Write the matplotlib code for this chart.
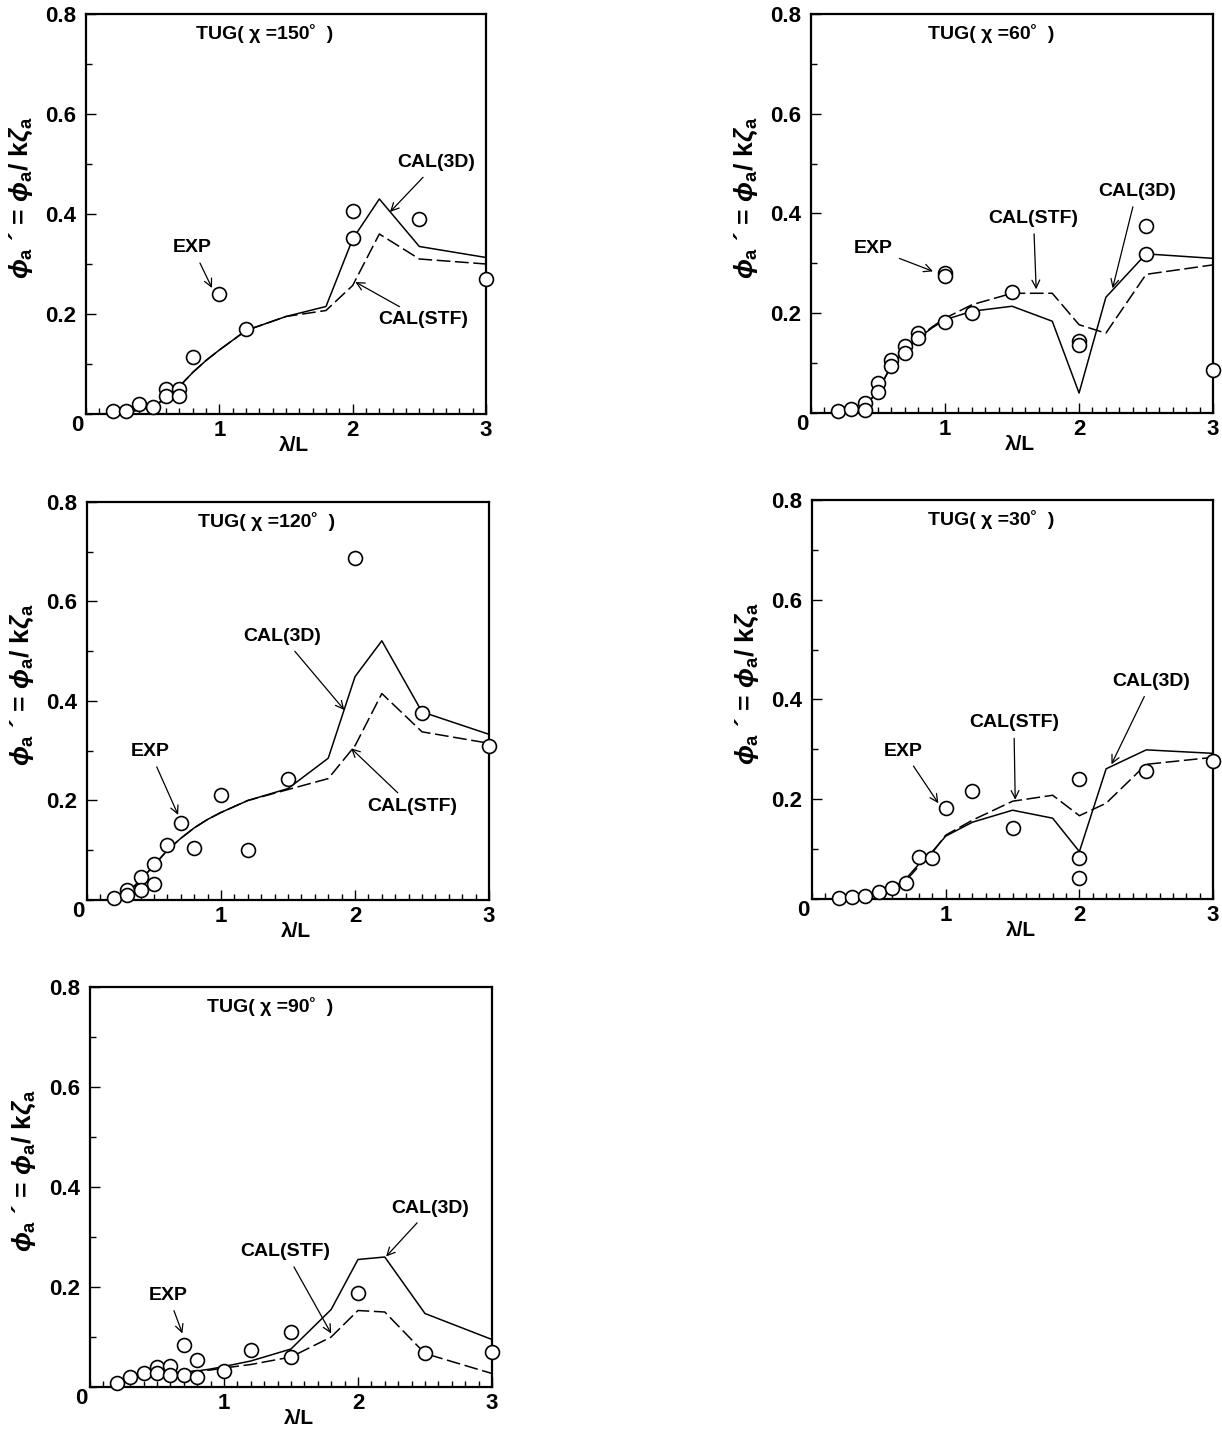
import matplotlib
matplotlib.use("Agg")
import matplotlib.pyplot as plt
from matplotlib.ticker import MultipleLocator, FixedLocator

plt.rcParams["font.family"] = ["Liberation Sans", "DejaVu Sans"]
plt.rcParams["mathtext.fontset"] = "custom"
plt.rcParams["mathtext.rm"] = "Liberation Sans:bold"
plt.rcParams["mathtext.it"] = "Liberation Sans:italic:bold"
plt.rcParams["mathtext.bf"] = "Liberation Sans:bold"

# wave length ratio used by both calculations
lam_cal = [0.2, 0.3, 0.4, 0.5, 0.6, 0.7, 0.8, 0.9, 1.0, 1.2, 1.5, 1.8, 2.0, 2.2, 2.5, 3.0]

# chi = 150 deg
exp150_x = [0.2, 0.3, 0.4, 0.5, 0.6, 0.6, 0.7, 0.7, 0.8, 1.0, 1.2, 2.0, 2.0, 2.5, 3.0]
exp150_y = [0.005, 0.005, 0.019, 0.014, 0.05, 0.035, 0.05, 0.035, 0.114, 0.24, 0.17, 0.405, 0.352, 0.39, 0.27]
cal3d_150 = [0.002, 0.004, 0.008, 0.016, 0.030, 0.055, 0.083, 0.107, 0.128, 0.167, 0.195, 0.215, 0.35, 0.43, 0.335, 0.313]
stf_150 = [0.002, 0.004, 0.008, 0.016, 0.030, 0.055, 0.083, 0.107, 0.128, 0.167, 0.195, 0.207, 0.257, 0.36, 0.31, 0.30]

# chi = 60 deg
exp60_x = [0.2, 0.3, 0.4, 0.4, 0.5, 0.5, 0.6, 0.6, 0.7, 0.7, 0.8, 0.8, 1.0, 1.0, 1.0, 1.2, 1.5, 2.0, 2.0, 2.5, 2.5, 3.0]
exp60_y = [0.003, 0.009, 0.02, 0.006, 0.06, 0.043, 0.107, 0.094, 0.134, 0.12, 0.16, 0.15, 0.28, 0.275, 0.182, 0.2, 0.242, 0.144, 0.137, 0.374, 0.319, 0.087]
cal3d_60 = [0.002, 0.005, 0.012, 0.045, 0.095, 0.125, 0.15, 0.17, 0.187, 0.204, 0.214, 0.184, 0.04, 0.232, 0.319, 0.31]
stf_60 = [0.002, 0.005, 0.012, 0.045, 0.095, 0.125, 0.15, 0.172, 0.19, 0.217, 0.24, 0.24, 0.177, 0.16, 0.278, 0.297]

# chi = 120 deg
exp120_x = [0.2, 0.3, 0.3, 0.4, 0.4, 0.5, 0.5, 0.6, 0.7, 0.8, 1.0, 1.2, 1.5, 2.0, 2.5, 3.0]
exp120_y = [0.004, 0.02, 0.01, 0.046, 0.02, 0.072, 0.032, 0.11, 0.155, 0.105, 0.212, 0.1, 0.243, 0.688, 0.375, 0.31]
cal3d_120 = [0.002, 0.015, 0.04, 0.07, 0.1, 0.124, 0.145, 0.162, 0.176, 0.2, 0.224, 0.285, 0.449, 0.521, 0.378, 0.333]
stf_120 = [0.002, 0.015, 0.04, 0.07, 0.1, 0.124, 0.145, 0.162, 0.176, 0.2, 0.222, 0.244, 0.31, 0.415, 0.338, 0.315]

# chi = 30 deg
exp30_x = [0.2, 0.3, 0.4, 0.5, 0.6, 0.7, 0.8, 0.9, 1.0, 1.2, 1.5, 2.0, 2.0, 2.0, 2.5, 3.0]
exp30_y = [0.002, 0.003, 0.005, 0.014, 0.023, 0.033, 0.085, 0.083, 0.182, 0.216, 0.142, 0.24, 0.083, 0.042, 0.256, 0.276]
cal3d_30 = [0.001, 0.003, 0.006, 0.012, 0.022, 0.04, 0.07, 0.095, 0.126, 0.154, 0.178, 0.162, 0.095, 0.261, 0.299, 0.292]
stf_30 = [0.001, 0.003, 0.006, 0.012, 0.022, 0.036, 0.066, 0.093, 0.128, 0.158, 0.196, 0.208, 0.167, 0.192, 0.27, 0.284]

# chi = 90 deg
exp90_x = [0.2, 0.3, 0.4, 0.5, 0.5, 0.6, 0.6, 0.7, 0.7, 0.8, 0.8, 1.0, 1.2, 1.5, 1.5, 2.0, 2.5, 3.0]
exp90_y = [0.008, 0.021, 0.028, 0.04, 0.028, 0.043, 0.025, 0.085, 0.025, 0.055, 0.021, 0.033, 0.075, 0.11, 0.061, 0.188, 0.069, 0.071]
cal3d_90 = [0.008, 0.016, 0.022, 0.026, 0.028, 0.03, 0.032, 0.036, 0.041, 0.052, 0.076, 0.155, 0.255, 0.26, 0.147, 0.095]
stf_90 = [0.008, 0.016, 0.022, 0.026, 0.028, 0.03, 0.032, 0.034, 0.038, 0.045, 0.06, 0.1, 0.153, 0.15, 0.067, 0.027]

headings = ["150", "60", "120", "30", "90"]

# axes rectangles in figure fractions
rects = [
    [0.0704, 0.7125, 0.3273, 0.2778],
    [0.6637, 0.7132, 0.3290, 0.2771],
    [0.0712, 0.3750, 0.3290, 0.2764],
    [0.6645, 0.3757, 0.3282, 0.2771],
    [0.0736, 0.0368, 0.3290, 0.2778],
]

# (label, text position, arrow head) for each panel, in data units
notes = [
    [("EXP", (0.80, 0.332), (0.945, 0.252)),
     ("CAL(3D)", (2.63, 0.502), (2.28, 0.404)),
     ("CAL(STF)", (2.53, 0.188), (2.02, 0.264))],
    [("EXP", (0.465, 0.33), (0.91, 0.284)),
     ("CAL(STF)", (1.66, 0.39), (1.68, 0.248)),
     ("CAL(3D)", (2.43, 0.444), (2.25, 0.25))],
    [("EXP", (0.47, 0.298), (0.68, 0.171)),
     ("CAL(3D)", (1.46, 0.529), (1.92, 0.382)),
     ("CAL(STF)", (2.43, 0.187), (1.97, 0.305))],
    [("EXP", (0.685, 0.296), (0.945, 0.192)),
     ("CAL(STF)", (1.51, 0.353), (1.52, 0.199)),
     ("CAL(3D)", (2.54, 0.436), (2.24, 0.27))],
    [("EXP", (0.585, 0.183), (0.69, 0.107)),
     ("CAL(STF)", (1.46, 0.27), (1.80, 0.107)),
     ("CAL(3D)", (2.54, 0.357), (2.21, 0.261))],
]

panels = [
    (exp150_x, exp150_y, cal3d_150, stf_150),
    (exp60_x, exp60_y, cal3d_60, stf_60),
    (exp120_x, exp120_y, cal3d_120, stf_120),
    (exp30_x, exp30_y, cal3d_30, stf_30),
    (exp90_x, exp90_y, cal3d_90, stf_90),
]

fig = plt.figure(figsize=(12.22, 14.4), dpi=100)

for rect, heading, (ex, ey, c3d, stf), panel_notes in zip(rects, headings, panels, notes):
    ax = fig.add_axes(rect)
    ax.plot(lam_cal, c3d, color="k", lw=1.1, zorder=2)
    ax.plot(lam_cal, stf, color="k", lw=1.1, dashes=(9, 3), zorder=2)
    ax.plot(ex, ey, "o", ms=10, mfc="white", mec="k", mew=1.2, zorder=3, clip_on=False)

    ax.set_xlim(0, 3)
    ax.set_ylim(0, 0.8)
    ax.xaxis.set_major_locator(FixedLocator([1, 2, 3]))
    ax.xaxis.set_minor_locator(MultipleLocator(0.1))
    ax.yaxis.set_major_locator(FixedLocator([0.2, 0.4, 0.6, 0.8]))
    ax.yaxis.set_minor_locator(MultipleLocator(0.1))
    ax.set_xticklabels(["1", "2", "3"])
    ax.set_yticklabels(["0.2", "0.4", "0.6", "0.8"])
    ax.tick_params(which="both", direction="in", top=False, right=False, width=1.0)
    ax.tick_params(which="major", length=7)
    ax.tick_params(which="minor", length=4)
    ax.tick_params(axis="x", pad=4)
    ax.tick_params(axis="y", pad=7)
    for lbl in ax.get_xticklabels() + ax.get_yticklabels():
        lbl.set_fontsize(16)
        lbl.set_fontweight("bold")
    for sp in ax.spines.values():
        sp.set_linewidth(1.6)

    ax.text(-0.022, -0.028, "0", transform=ax.transAxes, ha="center", va="center",
            fontsize=16, fontweight="bold")

    ax.set_xlabel("λ/L", fontsize=15, fontweight="bold")
    ax.xaxis.set_label_coords(0.52, -0.055)
    ax.set_ylabel(r"$\phi_{\rm a}$ ´ = $\phi_{\rm a}$/ k$\zeta_{\rm a}$", fontsize=19,
                  fontweight="bold")
    ax.yaxis.set_label_coords(-0.128, 0.54)

    ax.text(0.447, 0.952, "TUG( χ =" + heading + "˚  )", transform=ax.transAxes,
            ha="center", va="center", fontsize=14, fontweight="bold")

    for label, txt, head in panel_notes:
        ax.annotate(label, xy=head, xytext=txt, ha="center", va="center", fontsize=14,
                    fontweight="bold",
                    arrowprops=dict(arrowstyle="->", color="k", lw=0.9,
                                    shrinkA=3, shrinkB=0, mutation_scale=14))

fig.savefig("out.png", dpi=100)
